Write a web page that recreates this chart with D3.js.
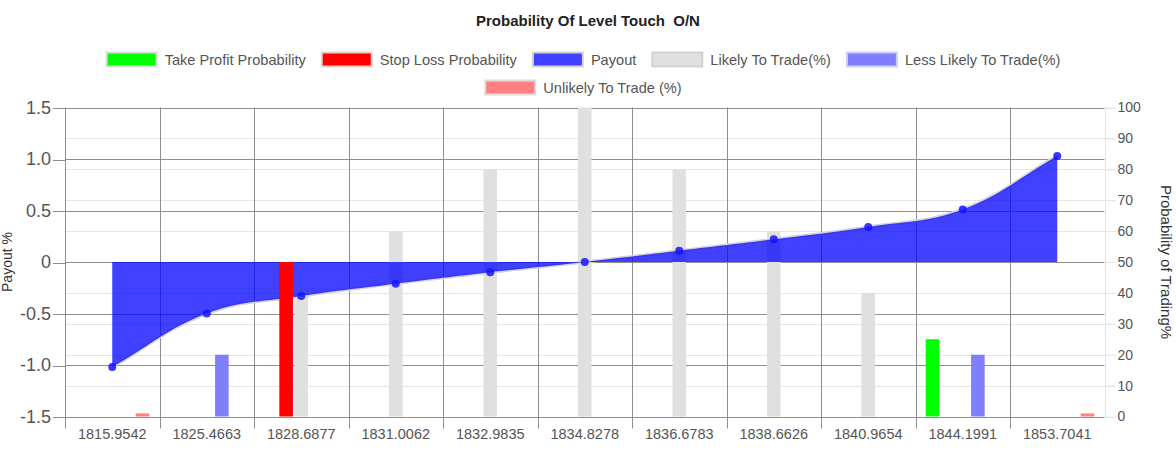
<!DOCTYPE html>
<html>
<head>
<meta charset="utf-8">
<script src="https://cdn.jsdelivr.net/npm/d3@7"></script>
<style>
  html, body { margin: 0; padding: 0; background: #fff; }
  svg { display: block; font-family: "Liberation Sans", Arial, sans-serif; }
</style>
</head>
<body>
<svg id="chart" width="1176" height="451"></svg>
<script>
// ---------------- data ----------------
const categories = ["1815.9542","1825.4663","1828.6877","1831.0062","1832.9835","1834.8278","1836.6783","1838.6626","1840.9654","1844.1991","1853.7041"];
const payout      = [-1.02, -0.50, -0.33, -0.21, -0.10, 0.00, 0.11, 0.22, 0.34, 0.51, 1.03];
const takeProfit  = [0, 0, 0, 0, 0, 0, 0, 0, 0, 25, 0];
const stopLoss    = [0, 0, 50, 0, 0, 0, 0, 0, 0, 0, 0];
const likely      = [0, 0, 40, 60, 80, 100, 80, 60, 40, 0, 0];
const lessLikely  = [0, 20, 0, 0, 0, 0, 0, 0, 0, 20, 0];
const unlikely    = [1, 0, 0, 0, 0, 0, 0, 0, 0, 0, 1];
const leftTicks      = [-1.5, -1.0, -0.5, 0, 0.5, 1.0, 1.5];
const leftTickLabels = ["-1.5", "-1.0", "-0.5", "0", "0.5", "1.0", "1.5"];
const rightTicks     = [0, 10, 20, 30, 40, 50, 60, 70, 80, 90, 100];
const title = "Probability Of Level Touch  O/N";
const legendRows = [
  ["Take Profit Probability", "Stop Loss Probability", "Payout", "Likely To Trade(%)", "Less Likely To Trade(%)"],
  ["Unlikely To Trade (%)"]
];

// ---------------- layout ----------------
const L = 65, R = 1104.5, T = 107.5, B = 416.5;
const svg = d3.select("#chart");

const x = d3.scaleBand().domain(categories).range([L, R]).paddingInner(0).paddingOuter(0);
const barSeries = [
  {name: "Take Profit Probability", values: takeProfit, fill: "#00ff00", stroke: "#d8d8d8"},
  {name: "Stop Loss Probability",   values: stopLoss,   fill: "#ff0000", stroke: "#e2cccc"},
  {name: "Likely To Trade(%)",      values: likely,     fill: "#e0e0e0", stroke: "#d2d2d2"},
  {name: "Less Likely To Trade(%)", values: lessLikely, fill: "#8080ff", stroke: "#c8c8f0"},
  {name: "Unlikely To Trade (%)",   values: unlikely,   fill: "#ff8080", stroke: "#dddddd"}
];
const bw = x.bandwidth();
const xSub = d3.scaleBand().domain(barSeries.map(s => s.name))
  .range([0.1 * bw, 0.9 * bw]).paddingInner(0.1).paddingOuter(0.05);
const yL = d3.scaleLinear().domain([-1.5, 1.5]).range([B, T]);
const yR = d3.scaleLinear().domain([0, 100]).range([B, T]);

const gridDark = "#8e8e8e", gridLight = "#e6e6e6";
const crisp = v => Math.round(v) + 0.5;

// light right-axis grid
svg.append("g").selectAll("line").data(rightTicks).join("line")
  .attr("x1", L).attr("x2", R + 11)
  .attr("y1", d => crisp(yR(d))).attr("y2", d => crisp(yR(d)))
  .attr("stroke", gridLight).attr("stroke-width", 1);
// right border
svg.append("line").attr("x1", crisp(R)).attr("x2", crisp(R)).attr("y1", T).attr("y2", B)
  .attr("stroke", gridLight);

// dark left-axis grid
svg.append("g").selectAll("line").data(leftTicks).join("line")
  .attr("x1", L).attr("x2", R)
  .attr("y1", d => crisp(yL(d))).attr("y2", d => crisp(yL(d)))
  .attr("stroke", gridDark).attr("stroke-width", 1);

// vertical grid at category boundaries
svg.append("g").selectAll("line").data(categories).join("line")
  .attr("x1", d => crisp(x(d))).attr("x2", d => crisp(x(d)))
  .attr("y1", T).attr("y2", B + 12)
  .attr("stroke", gridDark).attr("stroke-width", 1);

// ---------------- bars (drawn in reverse order like Chart.js) ----------------
function drawBars(s) {
  svg.append("g").selectAll("rect").data(s.values.map((v, i) => ({v, c: categories[i]})).filter(d => d.v > 0))
    .join("rect")
    .attr("x", d => x(d.c) + xSub(s.name))
    .attr("width", xSub.bandwidth())
    .attr("y", d => yR(d.v))
    .attr("height", d => B - yR(d.v))
    .attr("fill", s.fill);
}
drawBars(barSeries[4]);
drawBars(barSeries[3]);
drawBars(barSeries[2]);

// ---------------- payout area (Chart.js spline, tension 0.4) ----------------
const pts = payout.map((v, i) => ({x: x(categories[i]) + bw / 2, y: yL(v)}));
const tension = 0.4;
pts.forEach((p, i) => {
  const p0 = pts[Math.max(0, i - 1)], p2 = pts[Math.min(pts.length - 1, i + 1)];
  const d01 = Math.hypot(p.x - p0.x, p.y - p0.y);
  const d12 = Math.hypot(p2.x - p.x, p2.y - p.y);
  let s01 = d01 / (d01 + d12), s12 = d12 / (d01 + d12);
  if (!isFinite(s01)) s01 = 0; if (!isFinite(s12)) s12 = 0;
  const fa = tension * s01, fb = tension * s12;
  p.cpPrev = {x: p.x - fa * (p2.x - p0.x), y: p.y - fa * (p2.y - p0.y)};
  p.cpNext = {x: p.x + fb * (p2.x - p0.x), y: p.y + fb * (p2.y - p0.y)};
});
function linePath(ctx) {
  ctx.moveTo(pts[0].x, pts[0].y);
  for (let i = 1; i < pts.length; i++) {
    const a = pts[i - 1], b = pts[i];
    ctx.bezierCurveTo(a.cpNext.x, a.cpNext.y, b.cpPrev.x, b.cpPrev.y, b.x, b.y);
  }
  return ctx;
}
const lp = linePath(d3.path());
svg.append("path").attr("d", lp.toString()).attr("fill", "none")
  .attr("stroke", "#d4d4d4").attr("stroke-width", 3);
const ap = linePath(d3.path());
ap.lineTo(pts[pts.length - 1].x, yL(0));
ap.lineTo(pts[0].x, yL(0));
ap.closePath();
svg.append("path").attr("d", ap.toString()).attr("fill", "rgba(0,0,255,0.75)");

// red & green bars on top
drawBars(barSeries[1]);
drawBars(barSeries[0]);

// points
svg.append("g").selectAll("circle").data(pts).join("circle")
  .attr("cx", d => d.x).attr("cy", d => d.y).attr("r", 4)
  .attr("fill", "rgba(20,20,255,0.85)");

// ---------------- axes ----------------
const axL = svg.append("g").attr("transform", `translate(${L},0)`)
  .call(d3.axisLeft(yL).tickValues(leftTicks).tickFormat((d, i) => leftTickLabels[i]).tickSize(12).tickPadding(2));
axL.select(".domain").remove();
axL.selectAll(".tick line").attr("stroke", gridDark).attr("shape-rendering", "crispEdges")
  .attr("transform", "translate(0,0.5)");
axL.selectAll(".tick text").attr("fill", "#555").style("font-size", "18px")
  .style("font-family", "'Liberation Sans', Arial, sans-serif");

const axR = svg.append("g").attr("transform", `translate(${R},0)`)
  .call(d3.axisRight(yR).tickValues(rightTicks).tickSize(11).tickPadding(2));
axR.select(".domain").remove();
axR.selectAll(".tick line").attr("stroke", gridLight);
axR.selectAll(".tick text").attr("fill", "#555").style("font-size", "14px")
  .style("font-family", "'Liberation Sans', Arial, sans-serif");

const axB = svg.append("g").attr("transform", `translate(0,${B})`)
  .call(d3.axisBottom(x).tickSize(0).tickPadding(12.5));
axB.select(".domain").remove();
axB.selectAll(".tick text").attr("fill", "#555").style("font-size", "14.5px")
  .style("font-family", "'Liberation Sans', Arial, sans-serif");

// axis titles
svg.append("text").attr("transform", `translate(12,${(T + B) / 2}) rotate(-90)`)
  .attr("text-anchor", "middle").attr("fill", "#333").style("font-size", "14px").text("Payout %");
svg.append("text").attr("transform", `translate(1161,${(T + B) / 2}) rotate(90)`)
  .attr("text-anchor", "middle").attr("fill", "#333").style("font-size", "15px").text("Probability of Trading%");

// title
svg.append("text").attr("x", 588).attr("y", 25.5).attr("text-anchor", "middle")
  .attr("fill", "#222").style("font-size", "15px").style("font-weight", "bold")
  .style("white-space", "pre").attr("xml:space", "preserve").text(title);

// ---------------- legend ----------------
const legendStyle = {
  "Take Profit Probability": {fill: "#00ff00", stroke: "#dcdcdc"},
  "Stop Loss Probability":   {fill: "#ff0000", stroke: "#e6d0d0"},
  "Payout":                  {fill: "rgba(0,0,255,0.75)", stroke: "#d4d4d4"},
  "Likely To Trade(%)":      {fill: "#e0e0e0", stroke: "#d2d2d2"},
  "Less Likely To Trade(%)": {fill: "#8080ff", stroke: "#d0d0f4"},
  "Unlikely To Trade (%)":   {fill: "#ff8080", stroke: "#dddddd"}
};
const boxW = 50, boxH = 14, textGap = 7, itemGap = 15, legFont = 14.6;
const rowY = [59.5, 87.5];
legendRows.forEach((row, ri) => {
  const g = svg.append("g");
  const items = row.map(name => {
    const t = g.append("text").style("font-size", legFont + "px").attr("fill", "#555").text(name);
    return {name, t, w: t.node().getComputedTextLength()};
  });
  const total = d3.sum(items, d => boxW + 2 + textGap + d.w) + itemGap * (items.length - 1);
  let cx = 583 - total / 2;
  items.forEach(it => {
    const st = legendStyle[it.name];
    g.append("rect").attr("x", cx + 1).attr("y", rowY[ri] - boxH / 2).attr("width", boxW).attr("height", boxH)
      .attr("fill", st.fill).attr("stroke", st.stroke).attr("stroke-width", 2);
    it.t.attr("x", cx + boxW + 2 + textGap).attr("y", rowY[ri] + 5);
    cx += boxW + 2 + textGap + it.w + itemGap;
  });
});
</script>
</body>
</html>
